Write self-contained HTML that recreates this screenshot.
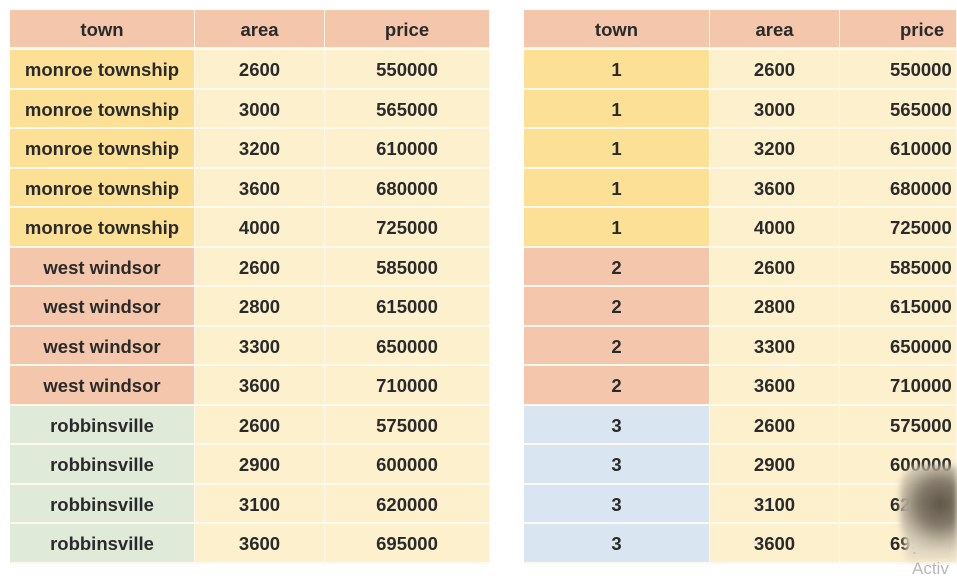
<!DOCTYPE html>
<html><head><meta charset="utf-8"><style>
html,body{margin:0;padding:0;width:957px;height:569px;overflow:hidden;background:#fff;}
.c{position:absolute;box-sizing:border-box;display:flex;align-items:center;justify-content:center;padding-top:3px;font-family:"Liberation Sans",sans-serif;font-weight:bold;font-size:18.5px;color:#2a2a2a;border-right:1px solid #fff8ea;border-bottom:2px solid #fff8ee;overflow:hidden;white-space:nowrap;}
.blob{position:absolute;left:900px;top:466px;width:57px;height:84px;border-radius:30% 0 0 40%;background:radial-gradient(circle at 70% 45%,rgba(95,85,70,1) 0%,rgba(125,115,100,0.95) 35%,rgba(195,185,165,0.85) 65%,rgba(240,230,210,0.6) 90%);filter:blur(3px);}
.cover{position:absolute;left:906px;top:478px;width:51px;height:82px;background:#e4d9c3;filter:blur(4px);}
</style></head><body>
<div id="root"></div>
<div class="cover"></div>
<div class="blob"></div>
<div style="position:absolute;left:912px;top:539px;font-family:'Liberation Sans',sans-serif;font-size:17px;color:#b8b8b8;">. Activ</div>
<script>
const towns=["monroe township","monroe township","monroe township","monroe township","monroe township","west windsor","west windsor","west windsor","west windsor","robbinsville","robbinsville","robbinsville","robbinsville"];
const townCodes=[1,1,1,1,1,2,2,2,2,3,3,3,3];
const areas=[2600,3000,3200,3600,4000,2600,2800,3300,3600,2600,2900,3100,3600];
const prices=[550000,565000,610000,680000,725000,585000,615000,650000,710000,575000,600000,620000,695000];
const headers=["town","area","price"];
const leftColors={1:"#fbe095",2:"#f4c6ab",3:"#dfead9"};
const rightColors={1:"#fbe095",2:"#f4c6ab",3:"#d9e6f1"};
const root=document.getElementById('root');
function cell(x,y,w,h,txt,bg,name,padLeft){
  const d=document.createElement('div');
  d.className='c';
  d.style.left=x+'px';d.style.top=y+'px';d.style.width=w+'px';d.style.height=h+'px';d.style.background=bg;
  if(padLeft!==undefined){d.style.justifyContent='flex-start';d.style.paddingLeft=padLeft+'px';}
  d.textContent=txt;
  
  
  root.appendChild(d);
}
function table(x0,widths,townVals,colors,prefix,pricePad,headPad){
  let x=x0;
  headers.forEach((h,i)=>{cell(x,10,widths[i],39,h,'#f4c6ab',prefix+'-header-'+h,i===2?headPad:undefined);x+=widths[i];});
  const rh=39.5;
  for(let r=0;r<towns.length;r++){
    const y=50+r*rh;
    let xx=x0;
    cell(xx,y,widths[0],rh,townVals[r],colors[townCodes[r]],prefix+'-town-cell');xx+=widths[0];
    cell(xx,y,widths[1],rh,areas[r],'#fdf0cd',prefix+'-area-cell');xx+=widths[1];
    cell(xx,y,widths[2],rh,prices[r],'#fdf0cd',prefix+'-price-cell',pricePad);
  }
}
table(10,[185,130,165],towns,leftColors,'left');
table(524,[186,130,117],townCodes,rightColors,'right',50,60);
</script>
</body></html>
